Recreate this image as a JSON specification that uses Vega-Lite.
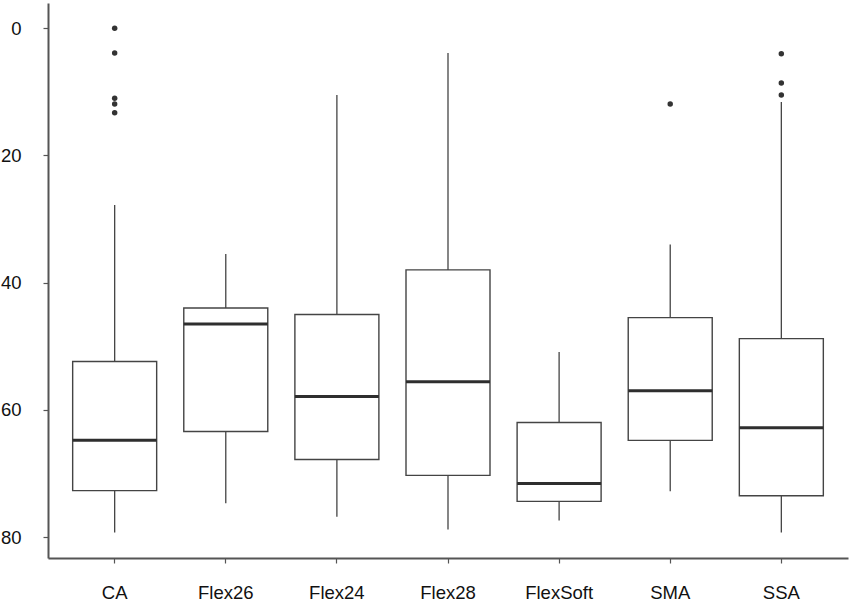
{
  "$schema": "https://vega.github.io/schema/vega-lite/v6.json",
  "width": 800,
  "height": 555,
  "autosize": "none",
  "padding": {"left": 48, "top": 3, "right": 6, "bottom": 46},
  "background": "white",
  "config": {
    "view": {"stroke": null},
    "axis": {"grid": false, "domainColor": "#555555", "domainWidth": 2, "tickColor": "#555555", "tickWidth": 1.2, "tickSize": 5, "labelFont": "Liberation Sans", "labelFontSize": 18.5, "labelColor": "#111111", "title": null}
  },
  "datasets": {
    "stats": [
      {"group": "CA", "lower": 79.3, "q1": 72.7, "median": 64.8, "q3": 52.4, "upper": 27.8},
      {"group": "Flex26", "lower": 74.7, "q1": 63.4, "median": 46.5, "q3": 44.0, "upper": 35.5},
      {"group": "Flex24", "lower": 76.8, "q1": 67.8, "median": 57.9, "q3": 45.0, "upper": 10.5},
      {"group": "Flex28", "lower": 78.8, "q1": 70.3, "median": 55.6, "q3": 38.0, "upper": 3.9},
      {"group": "FlexSoft", "lower": 77.4, "q1": 74.4, "median": 71.6, "q3": 62.0, "upper": 50.9},
      {"group": "SMA", "lower": 72.8, "q1": 64.8, "median": 57.0, "q3": 45.5, "upper": 34.0},
      {"group": "SSA", "lower": 79.3, "q1": 73.5, "median": 62.8, "q3": 48.8, "upper": 11.6}
    ],
    "outliers": [
      {"group": "CA", "value": 0.0},
      {"group": "CA", "value": 3.9},
      {"group": "CA", "value": 11.0},
      {"group": "CA", "value": 11.9},
      {"group": "CA", "value": 13.3},
      {"group": "SMA", "value": 11.9},
      {"group": "SSA", "value": 4.0},
      {"group": "SSA", "value": 8.6},
      {"group": "SSA", "value": 10.5}
    ]
  },
  "encoding": {
    "x": {
      "field": "group", "type": "nominal",
      "sort": ["CA", "Flex26", "Flex24", "Flex28", "FlexSoft", "SMA", "SSA"],
      "scale": {"paddingInner": 0.25, "paddingOuter": 0.225},
      "axis": {"labelAngle": 0, "labelPadding": 20}
    }
  },
  "layer": [
    {
      "data": {"name": "stats"},
      "mark": {"type": "rule", "color": "#444444", "strokeWidth": 1.3},
      "encoding": {
        "y": {"field": "lower", "type": "quantitative",
              "scale": {"domain": [-3.97, 83.3], "reverse": true, "nice": false, "zero": false},
              "axis": {"values": [0, 20, 40, 60, 80], "labelPadding": 22}},
        "y2": {"field": "upper"}
      }
    },
    {
      "data": {"name": "stats"},
      "mark": {"type": "bar", "fill": "white", "stroke": "#444444", "strokeWidth": 1.4, "size": 84},
      "encoding": {
        "y": {"field": "q1", "type": "quantitative"},
        "y2": {"field": "q3"}
      }
    },
    {
      "data": {"name": "stats"},
      "mark": {"type": "tick", "color": "#2e2e2e", "opacity": 1, "thickness": 3, "size": 84},
      "encoding": {
        "y": {"field": "median", "type": "quantitative"}
      }
    },
    {
      "data": {"name": "outliers"},
      "mark": {"type": "point", "filled": true, "color": "#333333", "opacity": 1, "size": 30},
      "encoding": {
        "y": {"field": "value", "type": "quantitative"}
      }
    }
  ]
}
